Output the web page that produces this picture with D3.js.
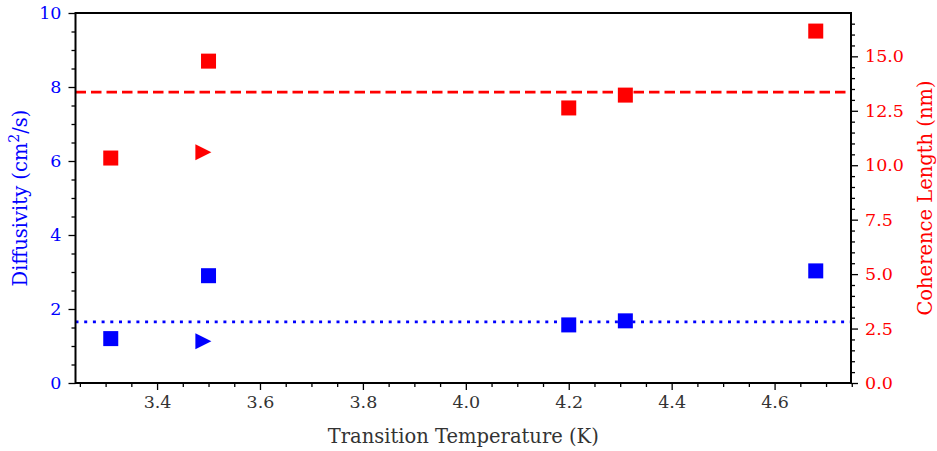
<!DOCTYPE html>
<html>
<head>
<meta charset="utf-8">
<script src="https://cdn.jsdelivr.net/npm/d3@7"></script>
<style>
body { margin: 0; background: #fff; }
text { font-family: "DejaVu Serif", "Liberation Serif", serif; }
</style>
</head>
<body>
<div id="main_div"></div>
<script>
// data
var temps = [3.31, 3.50, 4.20, 4.31, 4.68];
var diffusivity = [1.2, 2.9, 1.57, 1.68, 3.03];
var coherence = [10.33, 14.78, 12.63, 13.22, 16.16];
var tri_temp = [3.49];
var tri_diff = [1.13];
var tri_coh = [10.6];
var diff_line = 1.65;
var coh_line = 13.36;
var x_ticks = [3.4, 3.6, 3.8, 4.0, 4.2, 4.4, 4.6];
var yl_ticks = [0, 2, 4, 6, 8, 10];
var yr_ticks = [0, 2.5, 5, 7.5, 10, 12.5, 15];

var W = 937, H = 451;
var L = 75.5, R = 851, T = 13, B = 383;

var x_scale = d3.scaleLinear().domain([3.2415, 4.7485]).range([L, R]);
var yl_scale = d3.scaleLinear().domain([0, 10]).range([B, T]);
var yr_scale = d3.scaleLinear().domain([0, 16.99]).range([B, T]);

var svg = d3.select("#main_div").append("svg").attr("width", W).attr("height", H);

// reference lines
svg.append("line").attr("x1", L).attr("x2", R)
    .attr("y1", yr_scale(coh_line)).attr("y2", yr_scale(coh_line))
    .attr("stroke", "#ff0000").attr("stroke-width", 2.8).attr("stroke-dasharray", "10.5,5");
svg.append("line").attr("x1", L).attr("x2", R)
    .attr("y1", yl_scale(diff_line)).attr("y2", yl_scale(diff_line))
    .attr("stroke", "#0000ff").attr("stroke-width", 2.8).attr("stroke-dasharray", "3,5.7");

// squares
var sq = 15;
function squares(vals, scale, color) {
    svg.append("g").selectAll("rect").data(temps).enter().append("rect")
        .attr("x", function(d) { return x_scale(d) - sq / 2; })
        .attr("y", function(d, i) { return scale(vals[i]) - sq / 2; })
        .attr("width", sq).attr("height", sq)
        .attr("fill", color);
}
squares(diffusivity, yl_scale, "#0000ff");
squares(coherence, yr_scale, "#ff0000");

function triangles(vals, scale, color) {
    svg.append("g").selectAll("path").data(tri_temp).enter().append("path")
        .attr("d", function(d, i) {
            var cx = x_scale(d), cy = scale(vals[i]);
            return "M" + (cx - 8) + "," + (cy - 8) + "L" + (cx + 8) + "," + cy + "L" + (cx - 8) + "," + (cy + 8) + "Z";
        })
        .attr("fill", color);
}
triangles(tri_diff, yl_scale, "#0000ff");
triangles(tri_coh, yr_scale, "#ff0000");

// axes
function style_axis(g, color, size) {
    g.select(".domain").remove();
    g.selectAll("line").attr("stroke", "#000").attr("stroke-width", 1.3);
    g.selectAll("text").attr("fill", color).style("font-size", size + "px");
}

var fs = 17.5;
var xMinor = d3.range(3.25, 4.751, 0.05).filter(function(v) { return Math.abs(Math.round(v * 5) - v * 5) > 1e-6; });
var gxm = svg.append("g").attr("transform", "translate(0," + B + ")")
    .call(d3.axisBottom(x_scale).tickValues(xMinor).tickSize(4).tickFormat(""));
style_axis(gxm, "#000", fs);
var gx = svg.append("g").attr("transform", "translate(0," + B + ")")
    .call(d3.axisBottom(x_scale).tickValues(x_ticks).tickSize(7).tickPadding(6).tickFormat(d3.format(".1f")));
style_axis(gx, "#333", fs);

var ylMinor = d3.range(0, 10.01, 0.5).filter(function(v) { return v % 2 != 0; });
var gylm = svg.append("g").attr("transform", "translate(" + L + ",0)")
    .call(d3.axisLeft(yl_scale).tickValues(ylMinor).tickSize(4).tickFormat(""));
style_axis(gylm, "#0000ff", fs);
var gyl = svg.append("g").attr("transform", "translate(" + L + ",0)")
    .call(d3.axisLeft(yl_scale).tickValues(yl_ticks).tickSize(7).tickPadding(7).tickFormat(d3.format("d")));
style_axis(gyl, "#0000ff", fs);

var yrMinor = d3.range(0, 16.99, 0.5).filter(function(v) { return v % 2.5 != 0; });
var gyrm = svg.append("g").attr("transform", "translate(" + R + ",0)")
    .call(d3.axisRight(yr_scale).tickValues(yrMinor).tickSize(4).tickFormat(""));
style_axis(gyrm, "#ff0000", fs);
var gyr = svg.append("g").attr("transform", "translate(" + R + ",0)")
    .call(d3.axisRight(yr_scale).tickValues(yr_ticks).tickSize(7).tickPadding(7).tickFormat(d3.format(".1f")));
style_axis(gyr, "#ff0000", fs);

// frame
svg.append("rect").attr("x", L).attr("y", T).attr("width", R - L).attr("height", B - T)
    .attr("fill", "none").attr("stroke", "#000").attr("stroke-width", 2);

// labels
var lfs = "19.5px";
svg.append("text").attr("x", (L + R) / 2).attr("y", 443).attr("text-anchor", "middle")
    .attr("fill", "#333").style("font-size", lfs).text("Transition Temperature (K)");

var ll = svg.append("text").attr("transform", "translate(27," + (T + B) / 2 + ") rotate(-90)")
    .attr("text-anchor", "middle").attr("fill", "#0000ff").style("font-size", lfs);
ll.append("tspan").text("Diffusivity (cm");
ll.append("tspan").attr("dy", -8).style("font-size", "14px").text("2");
ll.append("tspan").attr("dy", 8).text("/s)");

svg.append("text").attr("transform", "translate(932," + (T + B) / 2 + ") rotate(-90)")
    .attr("text-anchor", "middle").attr("fill", "#ff0000").style("font-size", lfs)
    .text("Coherence Length (nm)");
</script>
</body>
</html>
